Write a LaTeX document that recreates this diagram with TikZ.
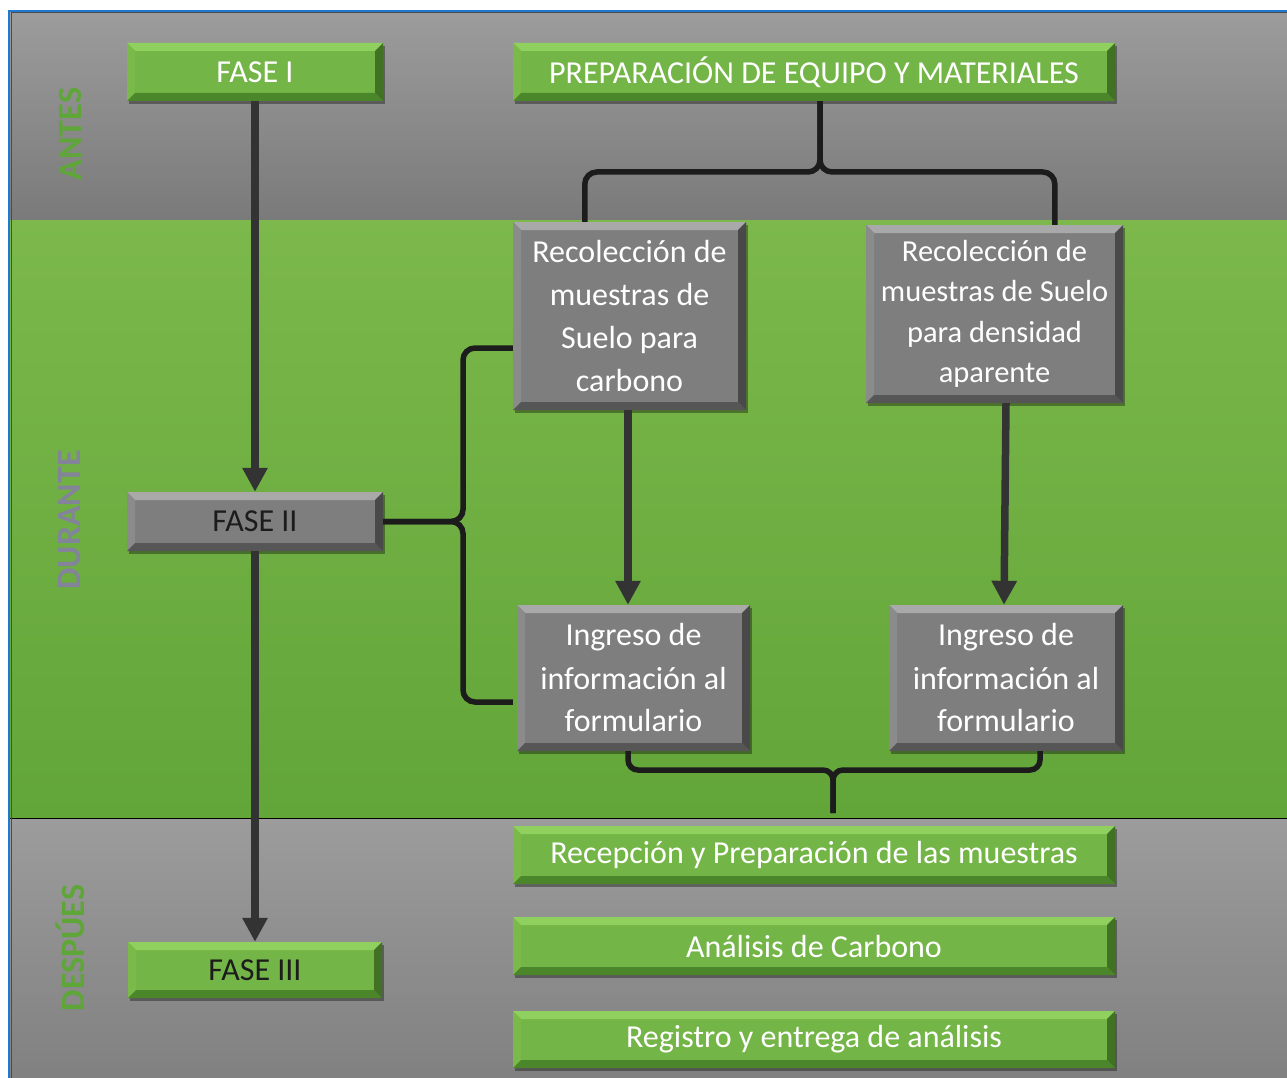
\documentclass[tikz,border=0pt]{standalone}
\usepackage{fontspec}
\setmainfont{Carlito}
\usetikzlibrary{arrows.meta,calc,shadows}
\definecolor{grayTop}{HTML}{9C9C9C}
\definecolor{grayBot}{HTML}{7A7A7A}
\definecolor{grnTop}{HTML}{7CB84B}
\definecolor{grnBot}{HTML}{62A539}
\definecolor{boxG}{HTML}{74B547}
\definecolor{boxGL}{HTML}{8FD05E}
\definecolor{boxGD}{HTML}{4C862B}
\definecolor{boxK}{HTML}{7E7E7E}
\definecolor{boxKL}{HTML}{A9A9A9}
\definecolor{boxKD}{HTML}{565656}
\definecolor{labG}{HTML}{5FA638}
\definecolor{labD}{HTML}{83849A}
\definecolor{frameblue}{HTML}{1F78D1}
\definecolor{linedark}{HTML}{1C1C1C}
\newcommand\bevelpaint[3]{%
  \coordinate (bvNW) at (path picture bounding box.north west);
  \coordinate (bvNE) at (path picture bounding box.north east);
  \coordinate (bvSW) at (path picture bounding box.south west);
  \coordinate (bvSE) at (path picture bounding box.south east);
  \fill[#1] (bvNW) -- (bvNE) -- ($(bvNE)+(-8,8)$) -- ($(bvNW)+(8,8)$) -- cycle;
  \fill[#2] (bvNW) -- ($(bvNW)+(8,8)$) -- ($(bvSW)+(8,-8)$) -- (bvSW) -- cycle;
  \fill[#3] (bvSW) -- (bvSE) -- ($(bvSE)+(-8,-8)$) -- ($(bvSW)+(8,-8)$) -- cycle;
  \fill[#3!85!black] (bvNE) -- (bvSE) -- ($(bvSE)+(-8,-8)$) -- ($(bvNE)+(-8,8)$) -- cycle;
}
\tikzset{
  box/.style={inner sep=0pt, align=center, font=\fontsize{32}{43}\selectfont,
    drop shadow={shadow xshift=2pt, shadow yshift=-3pt, opacity=0.35, fill=black}},
  gbox/.style={box, fill=boxG, path picture={\bevelpaint{boxGL}{boxG!80!boxGL}{boxGD}}},
  kbox/.style={box, fill=boxK, path picture={\bevelpaint{boxKL}{boxK!70!boxKL}{boxKD}}},
  arr/.style={draw=linedark!90!white, line width=7.5pt,
    -{Triangle[width=24pt,length=24pt]}, fill=linedark!90!white},
  brace/.style={draw=linedark, line width=5.5pt, rounded corners=12pt},
  side/.style={rotate=90, font=\bfseries\fontsize{34}{34}\selectfont}
}
\begin{document}
\begin{tikzpicture}[x=1pt,y=-1pt]
\useasboundingbox (0,0) rectangle (1287,1078);
\fill[white] (0,0) rectangle (1287,1078);
% bands
\shade[top color=grayTop, bottom color=grayBot] (10,12) rectangle (1287,220);
\shade[top color=grnTop, bottom color=grnBot] (10,220) rectangle (1287,818);
\shade[top color=grayTop, bottom color=grayBot!95!white] (10,818) rectangle (1287,1078);
\draw[black, line width=1pt] (10,818) -- (1287,818);
\draw[black!70, line width=1pt] (11,1078) -- (11,13) -- (1287,13);
\draw[frameblue, line width=2.2pt] (9,1078) -- (9,11) -- (1287,11);
% side labels
\node[side, text=labG] (antes) at (70,134) {ANTES};
\node[side, text=labD] (durante) at (70,520) {DURANTE};
\node[side, text=labG] (despues) at (70,948) {DESPÚES};
% boxes
\node[gbox, minimum width=256pt, minimum height=58pt, text=white] (fase1) at (255,72) {FASE I};
\node[gbox, minimum width=602pt, minimum height=58pt, text=white] (prep) at (814,72) {PREPARACIÓN DE EQUIPO Y MATERIALES};
\node[kbox, minimum width=233pt, minimum height=188pt, text=white] (rec1) at (629.5,316) {Recolección de\\muestras de\\Suelo para\\carbono};
\node[kbox, minimum width=257pt, minimum height=178pt, text=white, font=\fontsize{30.5}{40.5}\selectfont] (rec2) at (994.5,314) {Recolección de\\muestras de Suelo\\para densidad\\aparente};
\node[kbox, minimum width=256pt, minimum height=59pt, text=linedark] (fase2) at (255,521.5) {FASE II};
\node[kbox, minimum width=233pt, minimum height=146pt, text=white] (ing1) at (633.5,678) {Ingreso de\\información al\\formulario};
\node[kbox, minimum width=234pt, minimum height=146pt, text=white] (ing2) at (1006,678) {Ingreso de\\información al\\formulario};
\node[gbox, minimum width=254pt, minimum height=56pt, text=linedark] (fase3) at (255,970) {FASE III};
\node[gbox, minimum width=602pt, minimum height=58pt, text=white] (recep) at (814,855) {Recepción y Preparación de las muestras};
\node[gbox, minimum width=602pt, minimum height=58pt, text=white] (anal) at (814,946) {Análisis de Carbono};
\node[gbox, minimum width=602pt, minimum height=57pt, text=white] (regi) at (814,1039.5) {Registro y entrega de análisis};
% arrows
\draw[arr] (fase1.south) -- (fase2.north);
\draw[arr] (fase2.south) -- (fase3.north);
\draw[arr] ($(rec1.south)+(-1.5,0)$) -- ($(ing1.north)+(-5.5,0)$);
\draw[arr] ($(rec2.south)+(11.5,0)$) -- ($(ing2.north)+(-2,0)$);
% top brace
\coordinate (tb) at ($(prep.south)+(6,0)$);
\coordinate (tbar) at (0,172);
\coordinate (tL) at ($(rec1.north west)+(72,0)$);
\coordinate (tR) at ($(rec2.north west)+(189,0)$);
\draw[brace] (tL) -- (tL |- tbar) -- (tb |- tbar) -- (tb);
\draw[brace] (tR) -- (tR |- tbar) -- (tb |- tbar) -- (tb);
% left brace
\coordinate (vx) at (463,0);
\coordinate (lU) at ($(rec1.west)+(0,32)$);
\coordinate (lD) at ($(ing1.west)+(-4,24)$);
\draw[brace] (fase2.east) -- (vx |- fase2.east) -- (vx |- lU) -- (lU);
\draw[brace] (fase2.east) -- (vx |- fase2.east) -- (vx |- lD) -- (lD);
% bottom brace
\coordinate (bbar) at (0,770);
\coordinate (bS) at (833,813);
\coordinate (bL) at ($(ing1.south)+(-5.5,0)$);
\coordinate (bR) at ($(ing2.south)+(34,0)$);
\draw[brace, rounded corners=10pt] (bL) -- (bL |- bbar) -- (bS |- bbar) -- (bS);
\draw[brace, rounded corners=10pt] (bR) -- (bR |- bbar) -- (bS |- bbar) -- (bS);
\end{tikzpicture}
\end{document}
